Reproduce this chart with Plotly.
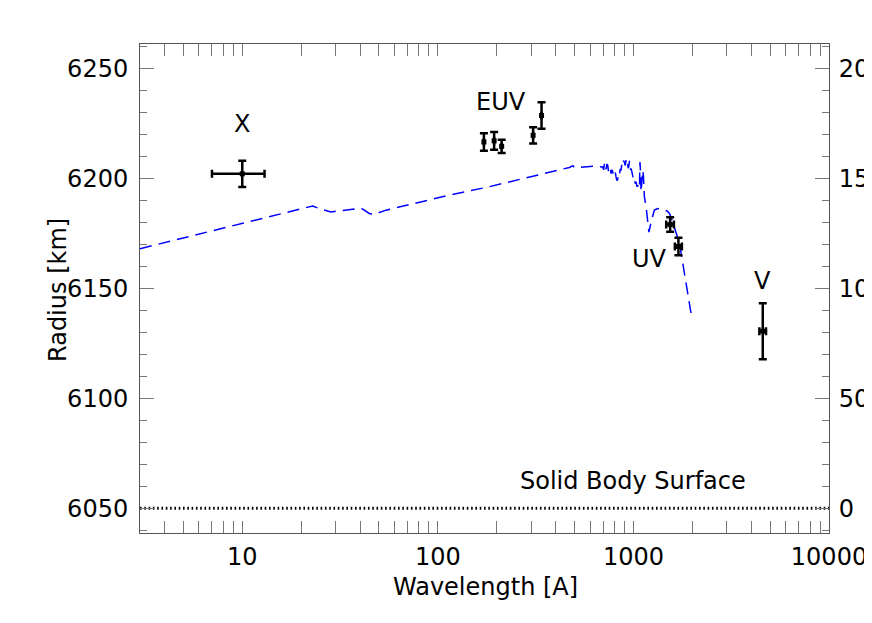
import math
import plotly.graph_objects as go

# ---- data ----
obs_wavelength = [10, 172, 194, 212, 307, 339, 1541, 1699, 4585]
obs_radius = [6202, 6216.5, 6217, 6214.5, 6219.5, 6228.5, 6179, 6169, 6130.5]
obs_radius_err = [6, 4, 4, 3, 3.7, 6, 3.3, 4, 12.7]
obs_wl_err = [3, 0, 0, 0, 0, 0, 70, 70, 180]

model_wavelength = [3.0, 22.9, 25.3, 28.4, 40.5, 44.6, 47.3, 54.3, 114.5, 180, 471, 490, 500, 644,
                    697, 704, 711, 718, 725, 732, 739, 746, 754, 761, 769, 776, 784, 792, 800,
                    808, 815, 823, 831, 840, 848, 856, 865, 873, 882, 890, 899, 908, 918,
                    926, 935, 940, 946, 954, 962, 967, 973, 983, 993, 1002, 1012, 1022, 1032,
                    1042, 1052, 1063, 1074, 1080, 1085, 1094, 1117,
                    1126, 1138, 1161, 1183, 1200, 1237, 1280, 1331, 1406, 1492, 1528, 1565,
                    1621, 1719, 1972]
model_radius = [6168.0, 6187.4, 6185.9, 6184.7, 6186.4, 6184.0, 6183.6, 6185.5, 6192.3, 6196.0,
                6204.9, 6205.7, 6204.8, 6205.5,
                6205.1, 6203.8, 6206.7, 6203.9, 6204.4, 6206.2, 6205.9, 6203.0, 6203.6, 6204.8,
                6202.1, 6203.9, 6202.9, 6200.8, 6201.4, 6202.6, 6200.6, 6198.9, 6199.4, 6202.0,
                6201.4, 6204.3, 6203.6, 6206.8, 6205.9, 6208.0, 6207.4, 6205.8, 6208.2,
                6206.0, 6206.7, 6204.6, 6205.1, 6207.8, 6207.4, 6203.8, 6204.4, 6202.8, 6201.4,
                6199.2, 6199.9, 6197.6, 6198.3, 6196.2, 6196.8, 6195.1, 6196.0, 6207.4, 6204.4,
                6193.8, 6203.6, 6200.6, 6191.5,
                6187.0, 6181.8, 6175.5, 6180.9, 6185.5, 6186.2, 6185.9, 6185.0, 6184.0, 6181.8,
                6177.7, 6170.5, 6138.5]

surface_radius = 6050
surface_wavelength = [3.0, 10000]
altitude_offset = 6050

band_labels = ["X", "EUV", "UV", "V"]
band_label_wl = [10, 210, 1207, 4585]
band_label_r = [6224.5, 6234.5, 6163.5, 6153.5]

x_tickvals = [10, 100, 1000, 10000]
x_ticktext = ["10", "100", "1000", "10000"]
y_range = [6038.8, 6261.0]

FONT = "DejaVu Sans"
FS = 24
fig = go.Figure()

fig.add_trace(go.Scatter(
    x=surface_wavelength, y=[surface_radius, surface_radius], mode="lines",
    line=dict(color="black", width=3, dash="1.6px,2.7px"), hoverinfo="skip", showlegend=False))

fig.add_trace(go.Scatter(
    x=model_wavelength, y=model_radius, mode="lines",
    line=dict(color="#0000ff", width=1.5, dash="12px,7px"), showlegend=False))

fig.add_trace(go.Scatter(
    x=obs_wavelength, y=obs_radius, mode="markers",
    marker=dict(symbol="square", size=5, color="black"),
    error_y=dict(type="data", array=obs_radius_err, color="black", thickness=2.5, width=4),
    error_x=dict(type="data", array=obs_wl_err, color="black", thickness=2.5, width=4),
    showlegend=False))

# invisible trace for the right-hand altitude axis
fig.add_trace(go.Scatter(x=[100], y=[100], yaxis="y2", mode="markers",
                         marker=dict(opacity=0), hoverinfo="skip", showlegend=False))

for t, wl, r in zip(band_labels, band_label_wl, band_label_r):
    fig.add_annotation(x=math.log10(wl), y=r, xref="x", yref="y", text=t, showarrow=False,
                       font=dict(family=FONT, size=FS, color="black"))
fig.add_annotation(x=math.log10(1000), y=6062.5, xref="x", yref="y", text="Solid Body Surface",
                   showarrow=False, font=dict(family=FONT, size=FS, color="black"))

# axis titles
fig.add_annotation(x=-0.119, y=0.497, xref="paper", yref="paper", text="Radius [km]",
                   textangle=-90, showarrow=False, xanchor="center", yanchor="middle",
                   font=dict(family=FONT, size=FS, color="black"))
fig.add_annotation(x=0.502, y=-0.110, xref="paper", yref="paper", text="Wavelength [A]",
                   showarrow=False, xanchor="center", yanchor="middle",
                   font=dict(family=FONT, size=FS, color="black"))

minor_x = [m * 10 ** d for d in range(0, 4) for m in range(2, 10)]
axis_common = dict(showgrid=False, zeroline=False, showline=True, linecolor="#555555", linewidth=1,
                   ticks="inside", tickcolor="#777777", automargin=False,
                   tickfont=dict(family=FONT, size=FS, color="black"))

fig.update_layout(
    width=872, height=623,
    margin=dict(l=132, r=51, t=36, b=98),
    paper_bgcolor="white", plot_bgcolor="white",
    font=dict(family=FONT, size=FS, color="black"),
    xaxis=dict(type="log", range=[math.log10(3.0), 4.0], tickvals=x_tickvals, ticktext=x_ticktext,
               ticklen=12, mirror="allticks",
               minor=dict(tickvals=minor_x, ticks="inside", ticklen=6, tickcolor="#777777"),
               ticklabelstandoff=2,
               **axis_common),
    yaxis=dict(range=y_range, tickvals=[6050, 6100, 6150, 6200, 6250], ticklen=14,
               minor=dict(dtick=10, ticks="inside", ticklen=7, tickcolor="#777777"),
               ticklabelstandoff=6,
               **axis_common),
    yaxis2=dict(overlaying="y", side="right",
                range=[y_range[0] - altitude_offset, y_range[1] - altitude_offset],
                tickvals=[0, 50, 100, 150, 200], ticklen=14,
                minor=dict(dtick=10, ticks="inside", ticklen=7, tickcolor="#777777"),
                ticklabelstandoff=4,
                **axis_common),
)

fig.write_html("out.html")
